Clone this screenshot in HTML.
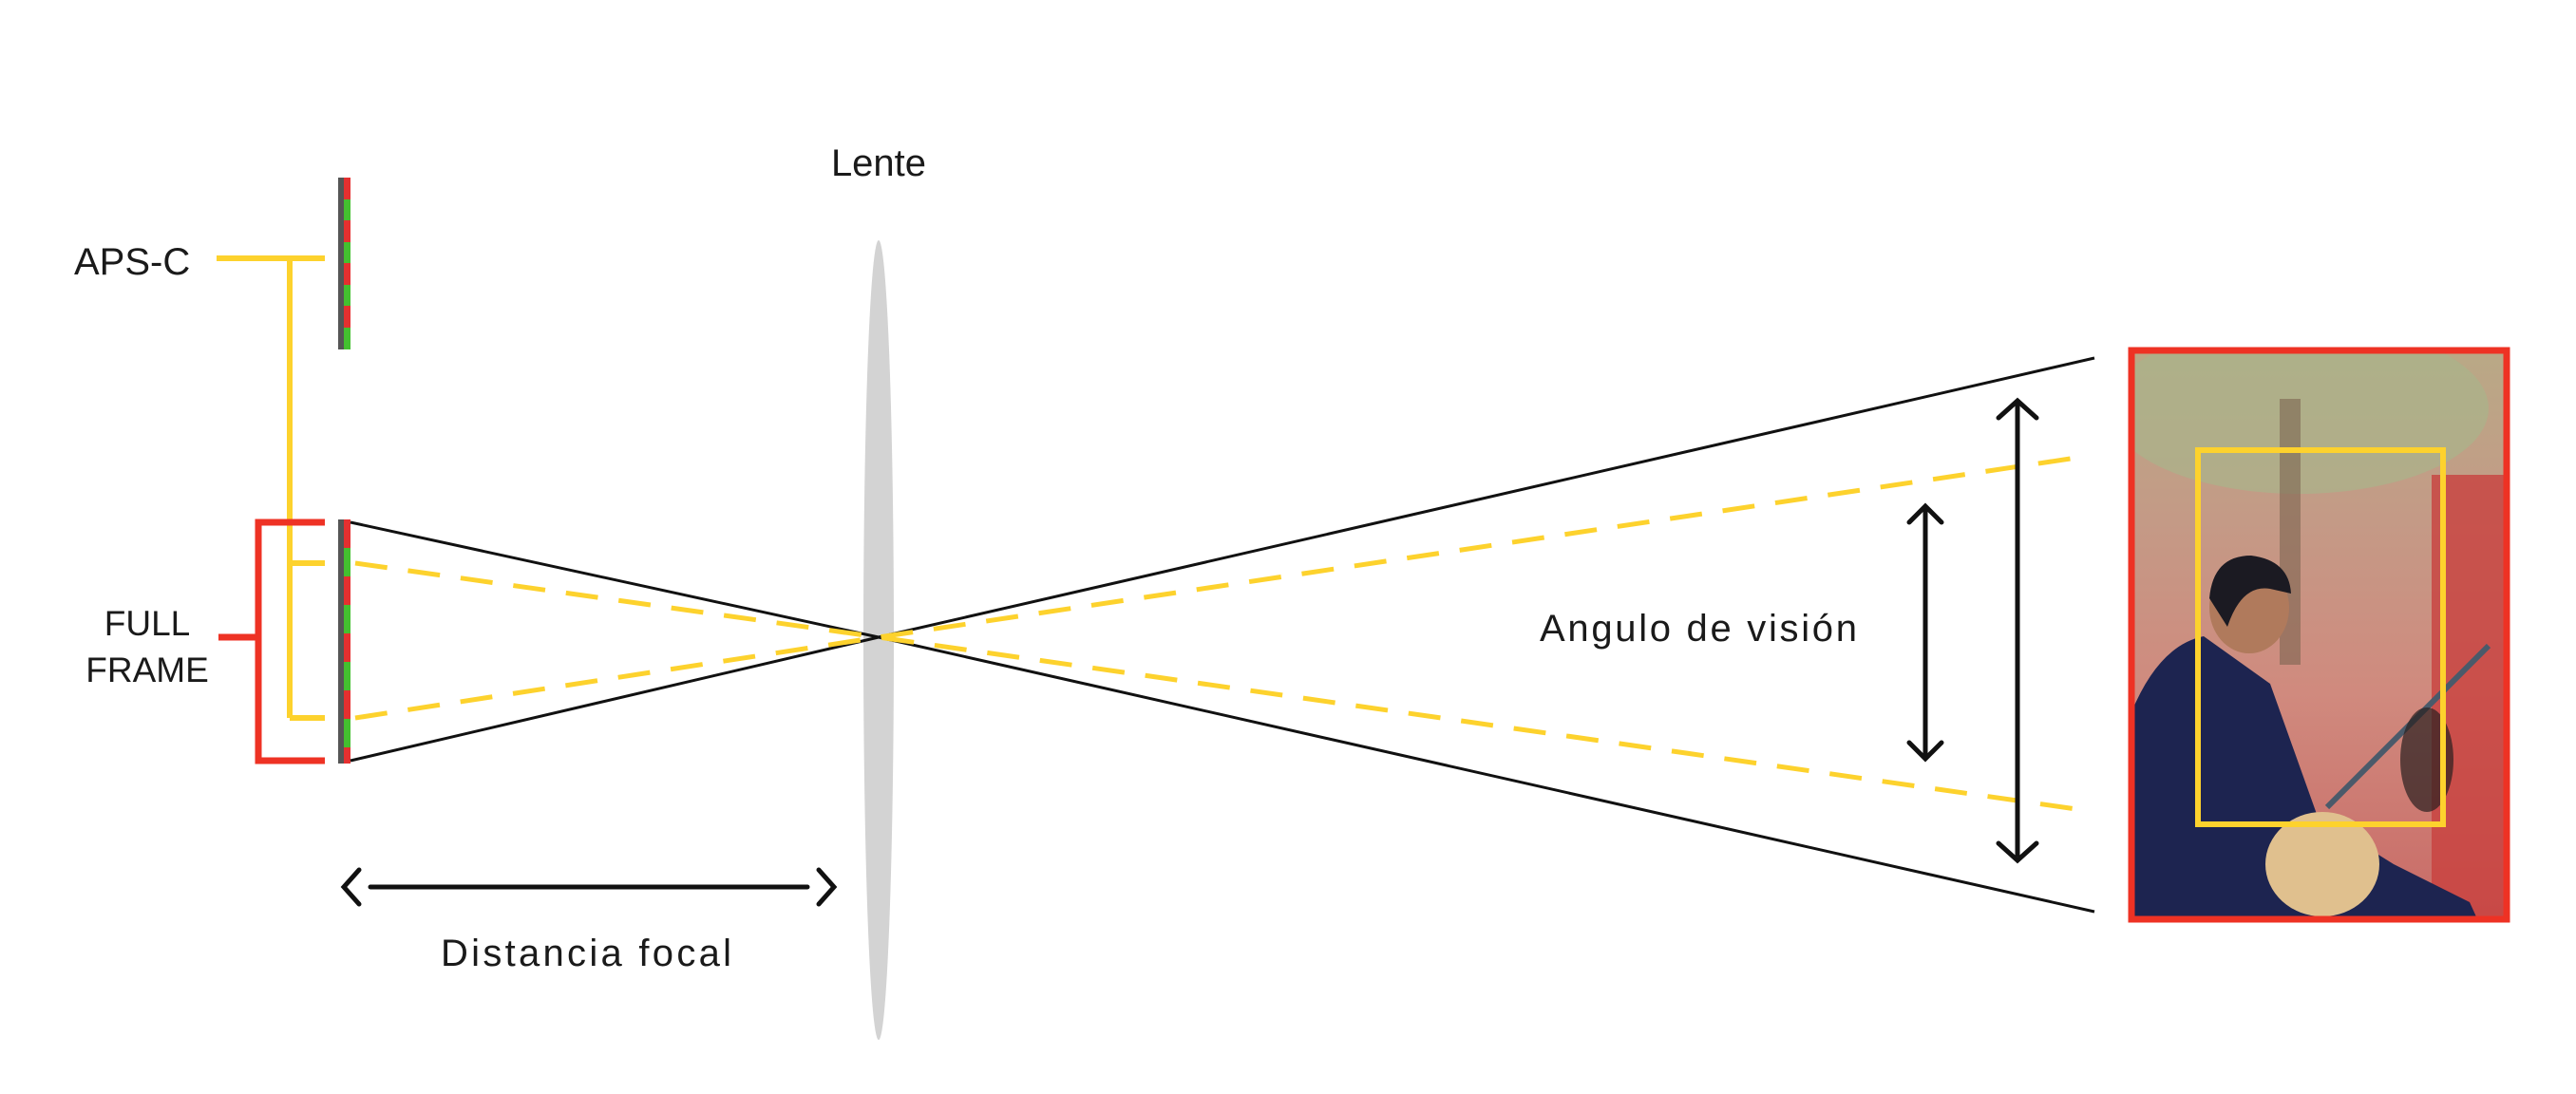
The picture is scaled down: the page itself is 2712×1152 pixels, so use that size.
<!DOCTYPE html>
<html><head><meta charset="utf-8"><style>
html,body{margin:0;padding:0;background:#fff}
svg{display:block}
text{font-family:"Liberation Sans",sans-serif;fill:#1a1a1a}
</style></head><body>
<svg width="2712" height="1152" viewBox="0 0 2712 1152">
<defs>
<linearGradient id="bg" x1="0" y1="0" x2="0" y2="1">
<stop offset="0" stop-color="#b9a986"/><stop offset="0.3" stop-color="#c49a86"/><stop offset="0.6" stop-color="#d08a7e"/><stop offset="1" stop-color="#c96a66"/>
</linearGradient>
<clipPath id="pc"><rect x="2244" y="369" width="395" height="599"/></clipPath>
</defs>

<text x="925" y="185" font-size="40" text-anchor="middle">Lente</text>
<ellipse cx="925" cy="674" rx="16" ry="421" fill="#d3d3d3"/>

<text x="78" y="289" font-size="40">APS-C</text>
<g>
<rect x="356" y="187" width="6" height="181" fill="#555"/>
<rect x="362" y="187" width="7" height="181" fill="#e53030"/>
<g fill="#44c030"><rect x="362" y="210" width="7" height="22"/><rect x="362" y="255" width="7" height="22"/><rect x="362" y="300" width="7" height="22"/><rect x="362" y="345" width="7" height="23"/></g>
</g>
<g>
<rect x="356" y="547" width="6" height="257" fill="#555"/>
<rect x="362" y="547" width="7" height="257" fill="#e53030"/>
<g fill="#44c030"><rect x="362" y="577" width="7" height="30"/><rect x="362" y="637" width="7" height="30"/><rect x="362" y="697" width="7" height="30"/><rect x="362" y="757" width="7" height="30"/></g>
</g>

<g stroke="#fdd22d" stroke-width="6" fill="none">
<line x1="228" y1="272" x2="342" y2="272"/>
<line x1="305" y1="272" x2="305" y2="756"/>
<line x1="305" y1="593" x2="342" y2="593"/>
<line x1="305" y1="756" x2="342" y2="756"/>
</g>
<g stroke="#ee3224" stroke-width="7" fill="none">
<polyline points="342,550 272,550 272,801 342,801"/>
<line x1="230" y1="671" x2="272" y2="671"/>
</g>
<text font-size="37" text-anchor="middle"><tspan x="155" y="669">FULL</tspan><tspan x="155" y="718">FRAME</tspan></text>

<g stroke="#111" stroke-width="3" fill="none">
<polyline points="369,550 925,671 2205,960"/>
<polyline points="369,801 925,671 2205,377"/>
</g>
<g stroke="#fdd22d" stroke-width="5" fill="none" stroke-dasharray="34,22">
<polyline points="374,593 925,671 2193,853"/>
<polyline points="374,756 925,671 2193,481"/>
</g>

<g stroke="#111" stroke-width="5" fill="none" stroke-linecap="round">
<line x1="390" y1="934" x2="850" y2="934"/>
<polyline points="378,916 362,934 378,952"/>
<polyline points="862,916 878,934 862,952"/>
</g>
<text x="464" y="1017" font-size="40" textLength="306">Distancia focal</text>

<text x="1621" y="675" font-size="40" textLength="334">Angulo de visión</text>
<g stroke="#111" stroke-width="5" fill="none" stroke-linecap="round">
<line x1="2124" y1="428" x2="2124" y2="900"/>
<polyline points="2104,440 2124,422 2144,440"/>
<polyline points="2104,888 2124,906 2144,888"/>
</g>
<g stroke="#111" stroke-width="5" fill="none" stroke-linecap="round">
<line x1="2027" y1="538" x2="2027" y2="794"/>
<polyline points="2010,550 2027,533 2044,550"/>
<polyline points="2010,782 2027,799 2044,782"/>
</g>

<g clip-path="url(#pc)">
<rect x="2240" y="365" width="403" height="607" fill="url(#bg)"/>
<ellipse cx="2420" cy="430" rx="200" ry="90" fill="#a9b48a" opacity="0.7"/>
<rect x="2560" y="500" width="90" height="470" fill="#c8413f" opacity="0.8"/>
<rect x="2400" y="420" width="22" height="280" fill="#7b6450" opacity="0.6"/>
<path d="M2240,760 Q2270,680 2320,670 L2390,720 L2440,860 L2520,910 L2600,950 L2610,972 L2240,972Z" fill="#1d2450"/>
<ellipse cx="2368" cy="640" rx="42" ry="48" fill="#b07a5c"/>
<path d="M2326,630 Q2330,585 2370,585 Q2410,590 2412,625 L2390,620 Q2360,615 2345,660Z" fill="#1b1a22"/>
<ellipse cx="2445" cy="910" rx="60" ry="55" fill="#e0c08e"/>
<line x1="2450" y1="850" x2="2620" y2="680" stroke="#4a5a6a" stroke-width="6"/>
<ellipse cx="2555" cy="800" rx="28" ry="55" fill="#2a2020" opacity="0.7"/>
</g>
<rect x="2244" y="369" width="395" height="599" fill="none" stroke="#ee3224" stroke-width="7"/>
<rect x="2314" y="474" width="258" height="394" fill="none" stroke="#fdd22d" stroke-width="6"/>
</svg>
</body></html>
